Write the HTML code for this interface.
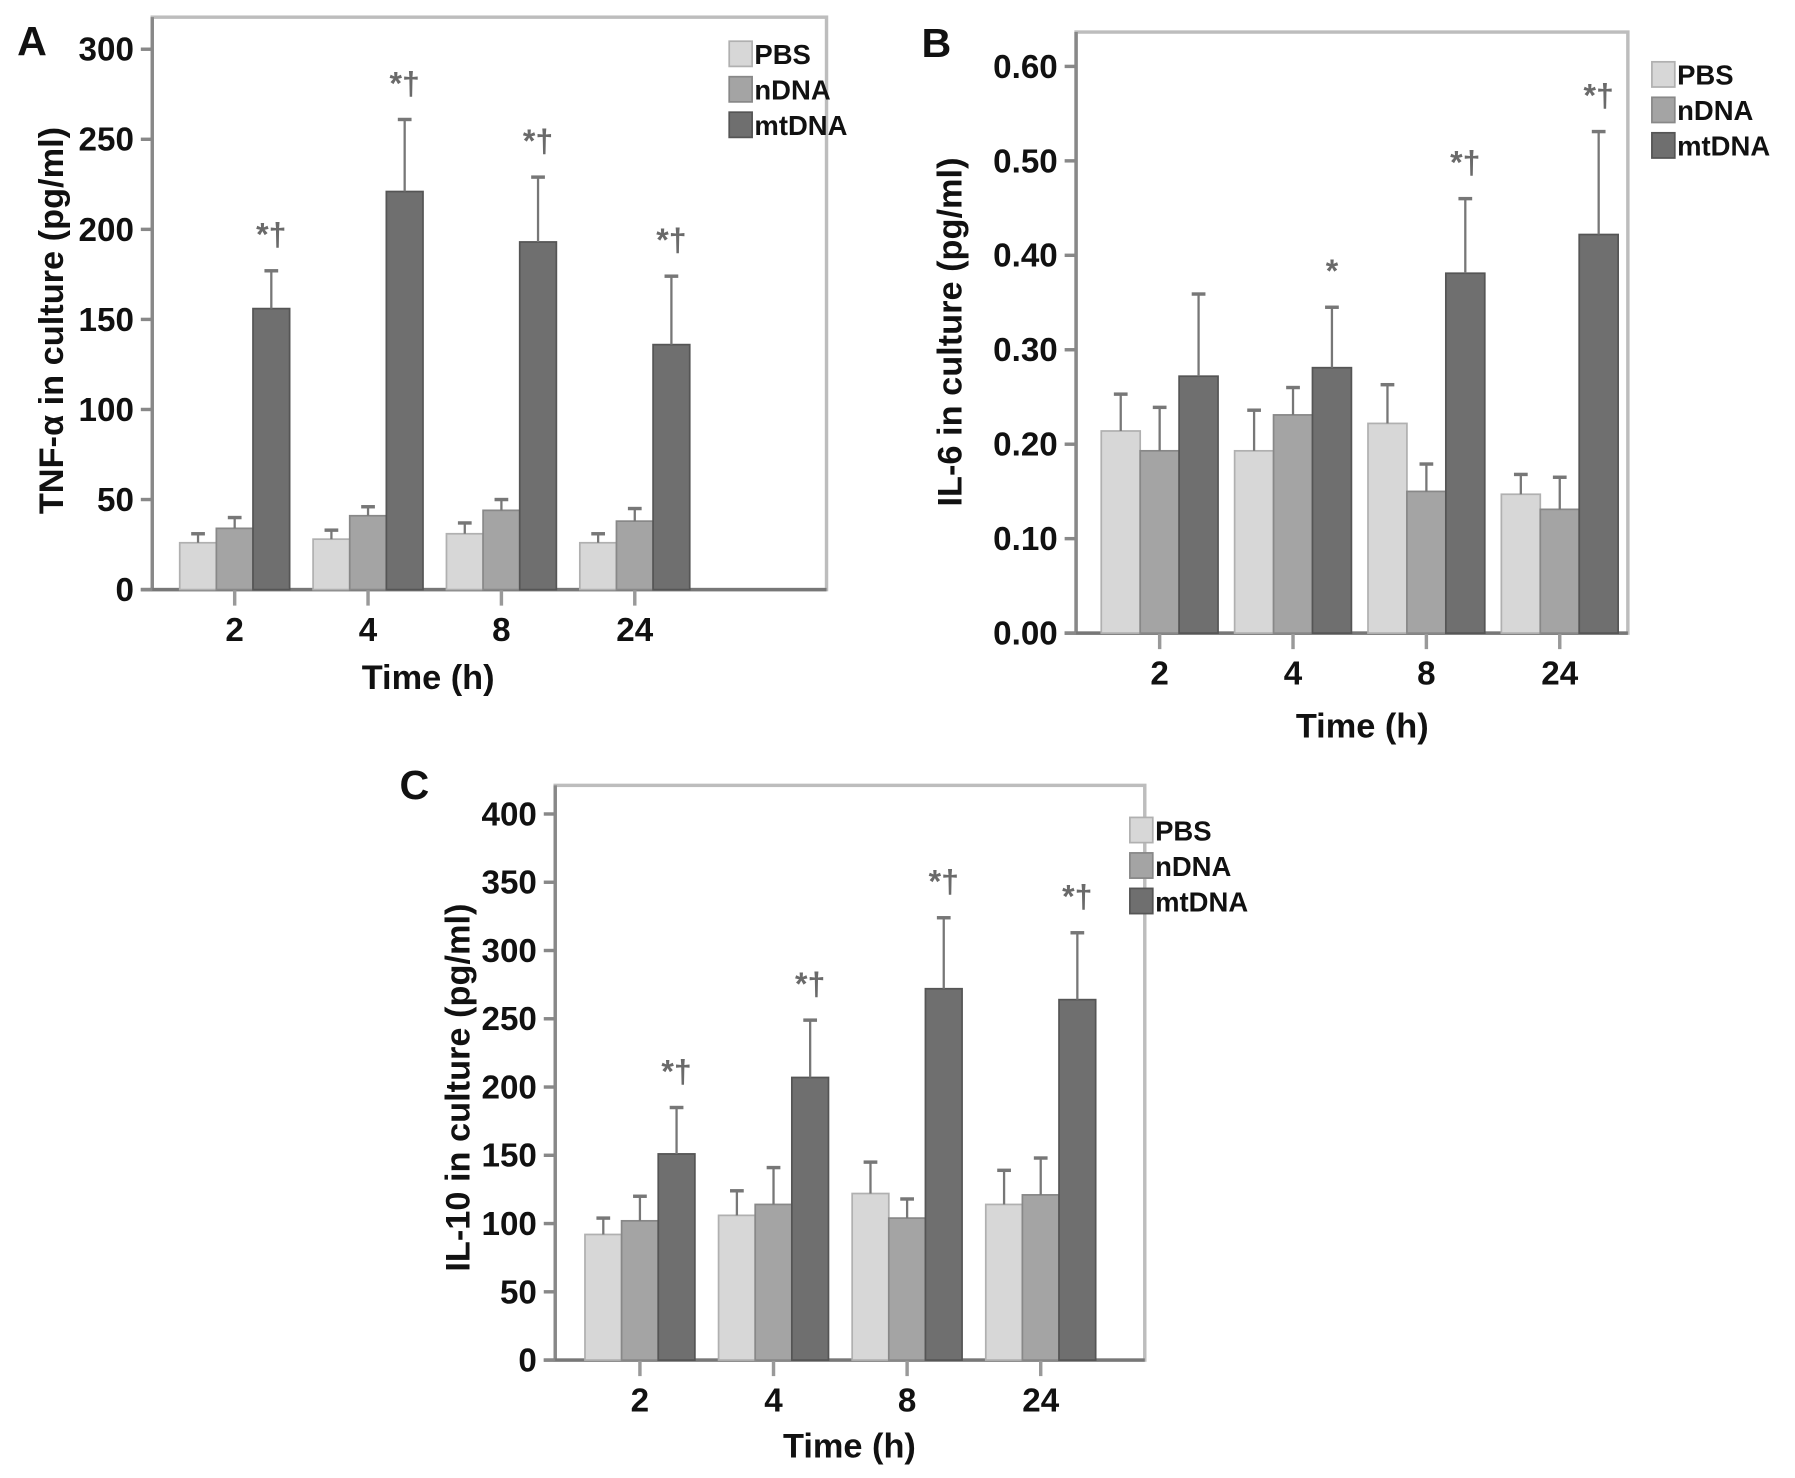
<!DOCTYPE html>
<html><head><meta charset="utf-8">
<style>
html,body{margin:0;padding:0;background:#fff;}
svg{display:block;}
text{font-family:"Liberation Sans Narrow","Liberation Sans",sans-serif;font-weight:bold;fill:#111;}
</style></head>
<body>
<svg id="fig" width="1795" height="1478" viewBox="0 0 1568 1291" preserveAspectRatio="none" xmlns="http://www.w3.org/2000/svg"></svg>
<script>
const categories = ["2","4","8","24"];
const seriesNames = ["PBS","nDNA","mtDNA"];
// Panel A: TNF-alpha
const aPBS = [26,28,31,26];
const aNDNA = [34,41,44,38];
const aMT = [156,221,193,136];
const aPBSerr = [31,33,37,31];
const aNDNAerr = [40,46,50,45];
const aMTerr = [177,261,229,174];
const aTicks = [0,50,100,150,200,250,300];
const aMarks = ["*†","*†","*†","*†"];
// Panel B: IL-6
const bPBS = [0.214,0.193,0.222,0.147];
const bNDNA = [0.193,0.231,0.150,0.131];
const bMT = [0.272,0.281,0.381,0.422];
const bPBSerr = [0.253,0.236,0.263,0.168];
const bNDNAerr = [0.239,0.260,0.179,0.165];
const bMTerr = [0.359,0.345,0.460,0.531];
const bTicks = [0,0.1,0.2,0.3,0.4,0.5,0.6];
const bMarks = ["","*","*†","*†"];
// Panel C: IL-10
const cPBS = [92,106,122,114];
const cNDNA = [102,114,104,121];
const cMT = [151,207,272,264];
const cPBSerr = [104,124,145,139];
const cNDNAerr = [120,141,118,148];
const cMTerr = [185,249,324,313];
const cTicks = [0,50,100,150,200,250,300,350,400];
const cMarks = ["*†","*†","*†","*†"];

const NS="http://www.w3.org/2000/svg";
const svg=document.getElementById('fig');
const fills=["#d7d7d7","#a4a4a4","#6f6f6f"];
const strokes=["#b0b0b0","#888","#555"];
function mk(tag,attrs,parent){const e=document.createElementNS(NS,tag);for(const k in attrs)e.setAttribute(k,attrs[k]);(parent||svg).appendChild(e);return e;}

function panel(cfg){
  const g=mk('g',{});
  
  
  const y=v=>cfg.y0+(v-cfg.tmin)/(cfg.tmax-cfg.tmin)*(cfg.ytop-cfg.y0);
  const x=i=>cfg.x0+i*cfg.dx;
  const fr=mk('rect',{x:cfg.fl,y:cfg.ft,width:cfg.fr-cfg.fl,height:y(cfg.tmin)-cfg.ft,fill:'none',stroke:'#bdbdbd','stroke-width':3},g);
  
  
  const yax=mk('line',{x1:cfg.fl,x2:cfg.fl,y1:cfg.ft,y2:y(cfg.tmin),stroke:'#888','stroke-width':3},g);
  
  
  const xax=mk('line',{x1:cfg.fl-10,x2:cfg.fr,y1:y(cfg.tmin),y2:y(cfg.tmin),stroke:'#777','stroke-width':3},g);
  
  
  cfg.ticks.forEach(t=>{
    mk('line',{x1:cfg.fl-10,x2:cfg.fl,y1:y(t),y2:y(t),stroke:'#888','stroke-width':3},g);
    const tl=mk('text',{x:cfg.fl-16,y:y(t)+10,'text-anchor':'end','font-size':29},g);
    tl.textContent=cfg.fmt(t);
    
    
  });
  const sets=[cfg.s[0],cfg.s[1],cfg.s[2]], errs=[cfg.e[0],cfg.e[1],cfg.e[2]];
  categories.forEach((c,i)=>{
    const cx=x(i);
    mk('line',{x1:cx,x2:cx,y1:y(cfg.tmin),y2:y(cfg.tmin)+14,stroke:'#999','stroke-width':3},g);
    const xl=mk('text',{x:cx,y:y(cfg.tmin)+45,'text-anchor':'middle','font-size':29},g);
    xl.textContent=c;
    
    
    for(let s=0;s<3;s++){
      const bx=cx+(s-1)*cfg.bw-cfg.bw/2;
      const v=sets[s][i], ev=errs[s][i];
      const r=mk('rect',{x:bx,y:y(v),width:cfg.bw,height:y(cfg.tmin)-y(v),fill:fills[s],stroke:strokes[s],'stroke-width':1.5},g);
      
      
      const bc=bx+cfg.bw/2;
      const el=mk('line',{x1:bc,x2:bc,y1:y(v),y2:y(ev),stroke:'#777','stroke-width':2},g);
      
      
      mk('line',{x1:bc-6,x2:bc+6,y1:y(ev),y2:y(ev),stroke:'#777','stroke-width':3},g);
    }
    if(cfg.marks[i]){
      const mcx=cx+cfg.bw;
      const m=mk('text',{x:mcx,y:y(errs[2][i])-22,'text-anchor':'middle','font-size':28,style:'fill:#6a6a6a'},g);
      m.textContent=cfg.marks[i];
      
      
    }
  });
  const xt=mk('text',{x:cfg.xtx,y:cfg.xty,'text-anchor':'middle','font-size':30},g);
  xt.textContent='Time (h)';
  
  
  const yt=mk('text',{x:0,y:0,'text-anchor':'middle','font-size':30,transform:`translate(${cfg.ytx},${cfg.yty}) rotate(-90)`},g);
  yt.textContent=cfg.ytitle;
  
  
  const pl=mk('text',{x:cfg.lx,y:cfg.ly,'text-anchor':'middle','font-size':36,style:'font-family:"Liberation Sans",sans-serif'},g);
  pl.textContent=cfg.letter;
  
  
  seriesNames.forEach((n,s)=>{
    const ly=cfg.legy+s*cfg.legdy;
    const sw=mk('rect',{x:cfg.legx,y:ly-11,width:20,height:22,fill:fills[s],stroke:strokes[s],'stroke-width':1.5},g);
    
    
    const lt=mk('text',{x:cfg.legx+22,y:ly+9,'font-size':24},g);
    lt.textContent=n;
    
    
  });
}
panel({name:'panel-a-tnf',letter:'A',lx:28,ly:48,fl:133,ft:15,fr:722,y0:515,ytop:43,tmin:0,tmax:300,ticks:aTicks,fmt:t=>String(t),
  x0:205,dx:116.5,bw:32,s:[aPBS,aNDNA,aMT],e:[aPBSerr,aNDNAerr,aMTerr],marks:aMarks,
  xtx:374,xty:602,ytx:55,yty:280,ytitle:'TNF-α in culture (pg/ml)',legx:637,legy:47,legdy:31});
panel({name:'panel-b-il6',letter:'B',lx:818,ly:50,fl:940,ft:28,fr:1422,y0:553,ytop:58,tmin:0,tmax:0.6,ticks:bTicks,fmt:t=>t.toFixed(2),
  x0:1013,dx:116.5,bw:34,s:[bPBS,bNDNA,bMT],e:[bPBSerr,bNDNAerr,bMTerr],marks:bMarks,
  xtx:1190,xty:644,ytx:840,yty:290,ytitle:'IL-6 in culture (pg/ml)',legx:1443,legy:65,legdy:31});
panel({name:'panel-c-il10',letter:'C',lx:362,ly:698,fl:485,ft:686,fr:1000,y0:1188,ytop:711,tmin:0,tmax:400,ticks:cTicks,fmt:t=>String(t),
  x0:559,dx:116.7,bw:32,s:[cPBS,cNDNA,cMT],e:[cPBSerr,cNDNAerr,cMTerr],marks:cMarks,
  xtx:742,xty:1273,ytx:410,yty:950,ytitle:'IL-10 in culture (pg/ml)',legx:987,legy:725,legdy:31});
</script>
</body></html>
